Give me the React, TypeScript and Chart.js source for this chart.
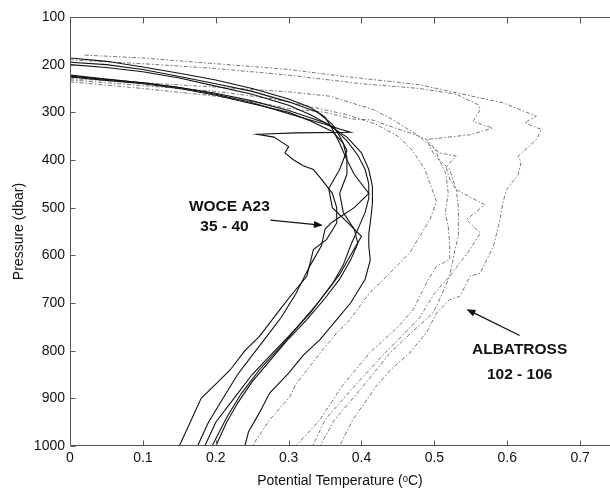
import React, { useEffect, useRef } from "react";
import { Chart, registerables } from "chart.js";

Chart.register(...registerables);

// Tick values
const tempTicks = [0, 0.1, 0.2, 0.3, 0.4, 0.5, 0.6, 0.7];
const pressureTicks = [100, 200, 300, 400, 500, 600, 700, 800, 900, 1000];

// WOCE A23 stations 35-40: [potential temperature (°C), pressure (dbar)]
const woce35 = [[0, 222], [0.05, 230], [0.1, 238], [0.15, 248], [0.2, 262], [0.25, 280], [0.29, 298], [0.32, 312], [0.35, 325], [0.37, 335], [0.385, 342], [0.31, 343], [0.257, 346], [0.28, 352], [0.29, 362], [0.3, 372], [0.295, 385], [0.306, 399], [0.32, 412], [0.334, 420], [0.345, 440], [0.36, 470], [0.366, 500], [0.366, 532], [0.352, 567], [0.334, 588], [0.325, 644], [0.306, 679], [0.288, 714], [0.26, 770], [0.24, 800], [0.22, 840], [0.2, 870], [0.18, 900], [0.165, 950], [0.15, 1000]];
const woce36 = [[0, 186], [0.05, 193], [0.1, 205], [0.15, 218], [0.2, 232], [0.25, 250], [0.3, 272], [0.33, 290], [0.35, 310], [0.36, 335], [0.37, 365], [0.38, 400], [0.39, 430], [0.41, 470], [0.39, 500], [0.36, 530], [0.35, 545], [0.345, 580], [0.33, 620], [0.31, 680], [0.29, 730], [0.27, 770], [0.25, 810], [0.23, 850], [0.21, 900], [0.19, 950], [0.175, 1000]];
const woce37 = [[0, 195], [0.05, 200], [0.1, 210], [0.15, 225], [0.2, 240], [0.25, 256], [0.3, 278], [0.34, 300], [0.36, 325], [0.37, 350], [0.38, 380], [0.37, 420], [0.355, 460], [0.36, 500], [0.38, 530], [0.4, 560], [0.385, 600], [0.37, 640], [0.35, 680], [0.33, 720], [0.3, 770], [0.275, 810], [0.25, 850], [0.225, 900], [0.2, 950], [0.185, 1000]];
const woce38 = [[0, 200], [0.05, 206], [0.1, 215], [0.15, 228], [0.2, 245], [0.25, 262], [0.3, 285], [0.33, 305], [0.36, 330], [0.38, 360], [0.395, 390], [0.405, 420], [0.41, 450], [0.41, 480], [0.405, 510], [0.395, 545], [0.385, 580], [0.375, 620], [0.36, 660], [0.34, 700], [0.315, 745], [0.29, 790], [0.26, 840], [0.235, 890], [0.215, 940], [0.195, 1000]];
const woce39 = [[0, 226], [0.05, 233], [0.1, 240], [0.15, 250], [0.2, 264], [0.25, 282], [0.3, 300], [0.33, 318], [0.36, 340], [0.375, 365], [0.38, 395], [0.38, 430], [0.37, 470], [0.375, 510], [0.39, 545], [0.395, 575], [0.385, 610], [0.37, 650], [0.35, 690], [0.325, 735], [0.3, 775], [0.275, 820], [0.25, 865], [0.23, 910], [0.215, 950], [0.2, 1000]];
const woce40 = [[0, 224], [0.05, 231], [0.1, 238], [0.15, 248], [0.2, 260], [0.25, 276], [0.3, 296], [0.35, 322], [0.38, 352], [0.4, 385], [0.41, 420], [0.415, 455], [0.415, 490], [0.413, 520], [0.41, 555], [0.41, 580], [0.412, 610], [0.405, 650], [0.385, 700], [0.366, 735], [0.343, 777], [0.32, 810], [0.3, 847], [0.274, 889], [0.26, 930], [0.245, 970], [0.24, 1000]];

// ALBATROSS stations 102-106
const alb102 = [[0, 232], [0.1, 244], [0.2, 256], [0.28, 272], [0.33, 288], [0.38, 305], [0.42, 325], [0.45, 350], [0.47, 380], [0.487, 420], [0.503, 487], [0.494, 525], [0.48, 560], [0.466, 595], [0.448, 623], [0.43, 651], [0.411, 679], [0.384, 735], [0.366, 763], [0.343, 805], [0.329, 833], [0.31, 870], [0.302, 896], [0.274, 945], [0.25, 1000]];
const alb103 = [[0, 236], [0.1, 250], [0.2, 266], [0.26, 280], [0.3, 292], [0.35, 300], [0.388, 314], [0.415, 316], [0.439, 329], [0.47, 345], [0.49, 357], [0.5, 375], [0.507, 400], [0.516, 430], [0.519, 470], [0.515, 510], [0.519, 539], [0.521, 580], [0.521, 609], [0.503, 623], [0.49, 655], [0.48, 686], [0.471, 714], [0.45, 750], [0.411, 805], [0.373, 875], [0.343, 945], [0.31, 1000]];
const alb104 = [[0, 229], [0.1, 238], [0.2, 247], [0.3, 257], [0.356, 266], [0.416, 294], [0.439, 312], [0.476, 347], [0.507, 385], [0.53, 392], [0.516, 414], [0.521, 440], [0.53, 462], [0.533, 500], [0.533, 560], [0.528, 590], [0.521, 644], [0.5, 680], [0.48, 730], [0.455, 770], [0.432, 805], [0.39, 875], [0.35, 945], [0.333, 1000]];
const alb105 = [[0, 190], [0.1, 198], [0.2, 208], [0.3, 222], [0.4, 240], [0.48, 250], [0.53, 262], [0.56, 284], [0.563, 294], [0.553, 319], [0.58, 333], [0.549, 347], [0.489, 357], [0.5, 390], [0.521, 420], [0.53, 462], [0.569, 494], [0.544, 525], [0.563, 553], [0.549, 588], [0.521, 644], [0.505, 700], [0.498, 721], [0.47, 760], [0.439, 805], [0.402, 875], [0.363, 945], [0.343, 1000]];
const alb106 = [[0.02, 180], [0.1, 186], [0.2, 198], [0.3, 210], [0.356, 221], [0.42, 232], [0.48, 242], [0.53, 259], [0.594, 280], [0.64, 308], [0.624, 322], [0.647, 336], [0.64, 357], [0.615, 392], [0.619, 405], [0.615, 431], [0.599, 462], [0.594, 490], [0.59, 525], [0.581, 581], [0.572, 609], [0.563, 637], [0.549, 644], [0.542, 665], [0.535, 686], [0.521, 693], [0.503, 721], [0.49, 760], [0.466, 805], [0.44, 840], [0.42, 875], [0.388, 945], [0.37, 1000]];

const woceProfiles = [woce35, woce36, woce37, woce38, woce39, woce40];
const albatrossProfiles = [alb102, alb103, alb104, alb105, alb106];

// Annotations (data coordinates)
const woceLabel = { lines: ["WOCE A23", "35 - 40"], at: [[0.2187, 498], [0.212, 541]], arrow: [[0.275, 526], [0.347, 537]] };
const albLabel = { lines: ["ALBATROSS", "102 - 106"], at: [[0.617, 798], [0.617, 851]], arrow: [[0.617, 768], [0.544, 713]] };

const FONT = "'Liberation Sans', Arial, Helvetica, sans-serif";

function drawArrow(ctx: CanvasRenderingContext2D, x0: number, y0: number, x1: number, y1: number) {
  const ang = Math.atan2(y1 - y0, x1 - x0);
  const len = 9, half = 3.5;
  ctx.beginPath();
  ctx.moveTo(x0, y0);
  ctx.lineTo(x1 - Math.cos(ang) * len * 0.8, y1 - Math.sin(ang) * len * 0.8);
  ctx.stroke();
  ctx.beginPath();
  ctx.moveTo(x1, y1);
  ctx.lineTo(x1 - Math.cos(ang) * len - Math.sin(ang) * half, y1 - Math.sin(ang) * len + Math.cos(ang) * half);
  ctx.lineTo(x1 - Math.cos(ang) * len + Math.sin(ang) * half, y1 - Math.sin(ang) * len - Math.cos(ang) * half);
  ctx.closePath();
  ctx.fill();
}

const framePlugin = {
  id: "matlabFrame",
  afterDatasetsDraw(chart: any) {
    const { ctx, chartArea: a, scales } = chart;
    const x = scales.x, y = scales.y;
    ctx.save();
    ctx.strokeStyle = "#555";
    ctx.lineWidth = 1;
    ctx.beginPath();
    const top = Math.round(a.top) + 0.5;
    const bottom = Math.round(a.bottom) - 0.5;
    const left = Math.round(a.left) + 0.5;
    ctx.moveTo(left, top); ctx.lineTo(a.right, top);
    ctx.moveTo(left, top); ctx.lineTo(left, bottom);
    ctx.moveTo(left, bottom); ctx.lineTo(a.right, bottom);
    tempTicks.forEach((t) => {
      const px = Math.round(x.getPixelForValue(t)) + 0.5;
      ctx.moveTo(px, top); ctx.lineTo(px, top + 6);
      ctx.moveTo(px, bottom); ctx.lineTo(px, bottom - 5);
    });
    pressureTicks.forEach((p) => {
      const py = Math.round(y.getPixelForValue(p)) + 0.5;
      ctx.moveTo(left, py); ctx.lineTo(left + 5, py);
    });
    ctx.stroke();

    ctx.fillStyle = "#111";
    ctx.strokeStyle = "#111";
    ctx.lineWidth = 1.2;
    ctx.font = `bold 15.5px ${FONT}`;
    ctx.textAlign = "center";
    ctx.textBaseline = "middle";
    [woceLabel, albLabel].forEach((lab) => {
      lab.lines.forEach((txt, i) => {
        ctx.fillText(txt, x.getPixelForValue(lab.at[i][0]), y.getPixelForValue(lab.at[i][1]));
      });
      const [s, e] = lab.arrow;
      drawArrow(ctx, x.getPixelForValue(s[0]), y.getPixelForValue(s[1]), x.getPixelForValue(e[0]), y.getPixelForValue(e[1]));
    });
    ctx.restore();
  },
};

export default function App() {
  const ref = useRef<HTMLCanvasElement | null>(null);
  useEffect(() => {
    if (!ref.current) return;
    const datasets: any[] = [];
    woceProfiles.forEach((prof, i) => {
      datasets.push({
        label: `WOCE ${35 + i}`,
        data: prof.map(([t, p]) => ({ x: t, y: p })),
        showLine: true,
        borderColor: "#111",
        borderWidth: 1.1,
        pointRadius: 0,
        tension: 0,
      });
    });
    albatrossProfiles.forEach((prof, i) => {
      datasets.push({
        label: `ALBATROSS ${102 + i}`,
        data: prof.map(([t, p]) => ({ x: t, y: p })),
        showLine: true,
        borderColor: "#777",
        borderWidth: 1,
        borderDash: [4, 2, 1.5, 2],
        pointRadius: 0,
        tension: 0,
      });
    });
    const chart = new Chart(ref.current, {
      type: "scatter",
      data: { datasets },
      plugins: [framePlugin],
      options: {
        animation: false,
        responsive: false,
        devicePixelRatio: 1,
        layout: { padding: { top: 17, right: 0, bottom: 0, left: 0 } },
        plugins: { legend: { display: false }, tooltip: { enabled: false } },
        scales: {
          x: {
            type: "linear",
            min: 0,
            max: 0.741,
            afterFit: (s: any) => { s.height = 48; },
            afterBuildTicks: (s: any) => { s.ticks = tempTicks.map((v) => ({ value: v })); },
            grid: { display: false, drawTicks: false },
            border: { display: false },
            ticks: {
              padding: 4,
              color: "#111",
              font: { family: FONT, size: 14 },
              callback: (v: any) => String(Math.round(Number(v) * 10) / 10),
              maxRotation: 0,
              autoSkip: false,
            },
            title: {
              display: true,
              text: "Potential Temperature (ᵒC)",
              color: "#111",
              font: { family: FONT, size: 14 },
              padding: { top: 0, bottom: 4 },
            },
          },
          y: {
            type: "linear",
            reverse: true,
            min: 100,
            max: 1000,
            afterFit: (s: any) => { s.width = 70; },
            afterBuildTicks: (s: any) => { s.ticks = pressureTicks.map((v) => ({ value: v })); },
            grid: { display: false, drawTicks: false },
            border: { display: false },
            ticks: {
              padding: 5,
              color: "#111",
              font: { family: FONT, size: 14 },
              callback: (v: any) => String(Math.round(Number(v))),
              autoSkip: false,
            },
            title: {
              display: true,
              text: "Pressure (dbar)",
              color: "#111",
              font: { family: FONT, size: 14 },
              padding: { top: 11, bottom: 0 },
            },
          },
        },
      },
    });
    return () => chart.destroy();
  }, []);
  return (
    <div style={{ position: "absolute", left: 0, top: 0, width: 610, height: 494, background: "#fff" }}>
      <canvas ref={ref} width={610} height={494} style={{ display: "block", width: 610, height: 494 }} />
    </div>
  );
}
